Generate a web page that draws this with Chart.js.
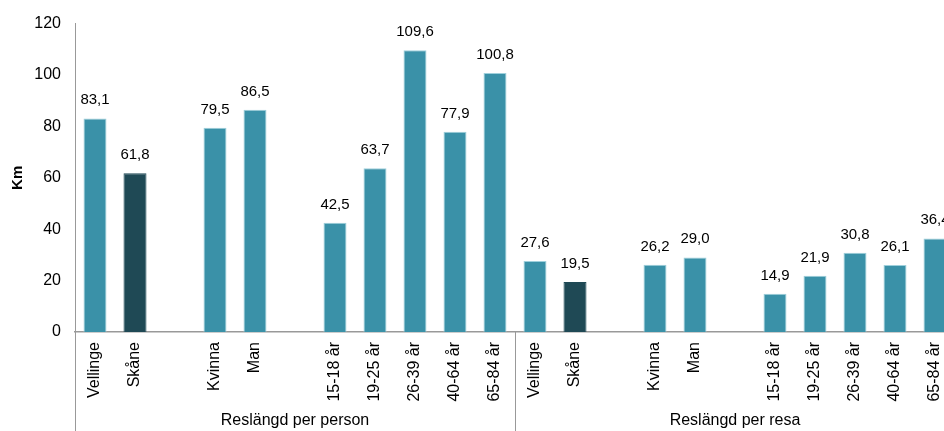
<!DOCTYPE html>
<html>
<head>
<meta charset="utf-8">
<script src="https://cdn.jsdelivr.net/npm/chart.js@4"></script>
<style>
  body { margin: 0; overflow: hidden; background: #fff; }
  #wrap { width: 960px; height: 431px; position: relative; }
</style>
</head>
<body>
<div id="wrap"><canvas id="resChart"></canvas></div>
<script>
// kategorier (tomma platser ger mellanrum mellan grupperna)
const categories = ['Vellinge', 'Skåne', '', 'Kvinna', 'Man', '', '15-18 år', '19-25 år', '26-39 år', '40-64 år', '65-84 år',
  'Vellinge', 'Skåne', '', 'Kvinna', 'Man', '', '15-18 år', '19-25 år', '26-39 år', '40-64 år', '65-84 år'];
const values = [83.1, 61.8, null, 79.5, 86.5, null, 42.5, 63.7, 109.6, 77.9, 100.8,
  27.6, 19.5, null, 26.2, 29.0, null, 14.9, 21.9, 30.8, 26.1, 36.4];
const groups = ['Reslängd per person', 'Reslängd per resa'];
const yTicks = [0, 20, 40, 60, 80, 100, 120];

const teal = '#3a91a8';
const dark = '#1f4955';
const font = '"Liberation Sans", Arial, sans-serif';

const barColors = categories.map(c => c === 'Skåne' ? dark : teal);
const borderColors = categories.map(c => c === 'Skåne' ? dark : '#9fd0dc');

const extras = {
  id: 'extras',
  afterDatasetsDraw(chart) {
    const ctx = chart.ctx;
    const x = chart.scales.x;
    const area = chart.chartArea;
    const meta = chart.getDatasetMeta(0);

    ctx.save();
    ctx.font = '15px ' + font;
    ctx.fillStyle = '#000';
    ctx.textAlign = 'center';
    ctx.textBaseline = 'alphabetic';
    meta.data.forEach((bar, i) => {
      if (values[i] == null) return;
      ctx.fillText(values[i].toFixed(1).replace('.', ','), bar.x, bar.y - 14);
    });

    // y-axelns linje ner till botten och avdelaren mellan grupperna
    const bottom = chart.height;
    const sep = (x.getPixelForValue(10) + x.getPixelForValue(11)) / 2;
    ctx.strokeStyle = '#999';
    ctx.lineWidth = 1;
    ctx.beginPath();
    ctx.moveTo(area.left + 0.5, area.bottom);
    ctx.lineTo(area.left + 0.5, bottom);
    ctx.moveTo(Math.round(sep) + 0.5, area.bottom);
    ctx.lineTo(Math.round(sep) + 0.5, bottom);
    ctx.stroke();

    ctx.font = '16px ' + font;
    ctx.textBaseline = 'middle';
    const g1 = (x.getPixelForValue(0) + x.getPixelForValue(10)) / 2;
    const g2 = (x.getPixelForValue(11) + x.getPixelForValue(21)) / 2;
    ctx.fillText(groups[0], g1, 421);
    ctx.fillText(groups[1], g2, 421);
    ctx.restore();
  }
};

new Chart(document.getElementById('resChart'), {
  type: 'bar',
  data: {
    labels: categories,
    datasets: [{
      data: values,
      backgroundColor: barColors,
      borderColor: borderColors,
      borderWidth: 1,
      barPercentage: 0.575,
      categoryPercentage: 1
    }]
  },
  options: {
    responsive: true,
    maintainAspectRatio: false,
    animation: false,
    layout: { padding: { top: 22, right: 5, left: 0, bottom: 0 } },
    plugins: { legend: { display: false }, tooltip: { enabled: false } },
    scales: {
      x: {
        grid: { display: false, drawTicks: false },
        border: { color: '#999', width: 1.5 },
        ticks: {
          autoSkip: false,
          minRotation: 90,
          maxRotation: 90,
          padding: 10,
          color: '#000',
          font: { family: font, size: 16 }
        },
        afterFit(scale) {
          scale.height = 99;
          scale.paddingLeft = 0;
          scale.paddingRight = 0;
        }
      },
      y: {
        min: 0,
        max: 120,
        afterBuildTicks(scale) { scale.ticks = yTicks.map(v => ({ value: v })); },
        grid: { display: false, drawTicks: false },
        border: { color: '#999', width: 1 },
        ticks: {
          padding: 14,
          color: '#000',
          font: { family: font, size: 16 }
        },
        title: {
          display: true,
          text: 'Km',
          color: '#000',
          padding: { top: 9, bottom: 0 },
          font: { family: font, size: 15, weight: 'bold' }
        },
        afterFit(scale) { scale.width = 75; }
      }
    }
  },
  plugins: [extras]
});
</script>
</body>
</html>
